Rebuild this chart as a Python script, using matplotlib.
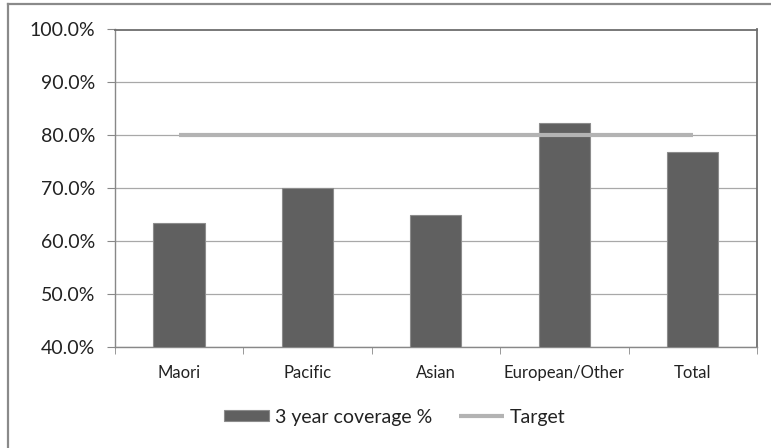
import matplotlib
matplotlib.use("Agg")
import matplotlib.pyplot as plt
from matplotlib.lines import Line2D
from matplotlib.ticker import FuncFormatter, FixedLocator

categories = ["Maori", "Pacific", "Asian", "European/Other", "Total"]
coverage = [63.4, 70.0, 65.0, 82.4, 76.9]
target = [80.0, 80.0, 80.0, 80.0, 80.0]
yticks = [40, 50, 60, 70, 80, 90, 100]

plt.rcParams['font.family'] = ['Lato', 'DejaVu Sans']

fig = plt.figure(figsize=(7.71, 4.48), dpi=100)
ax = fig.add_axes([114.6 / 771, 1 - 347 / 448, (757 - 114.6) / 771, (347 - 29.5) / 448])

x = list(range(len(categories)))
bars = ax.bar(x, coverage, width=0.4, color="#606060", edgecolor="#8c8c8c", linewidth=0.8,
              label="3 year coverage %", zorder=3)
line, = ax.plot(x, target, color="#b3b3b3", linewidth=3.0, solid_capstyle="butt",
                label="Target", zorder=4)

ax.set_xlim(-0.5, len(categories) - 0.5)
ax.set_ylim(40, 100)
ax.set_yticks(yticks)
ax.yaxis.set_major_formatter(FuncFormatter(lambda v, p: f"{v:.1f}%"))
ax.grid(axis="y", color="#a8a8a8", linewidth=0.9, zorder=0)

ax.set_xticks(x)
ax.set_xticklabels(categories, fontsize=12, color="#222222")
ax.xaxis.set_minor_locator(FixedLocator([i - 0.5 for i in range(len(categories) + 1)]))
ax.tick_params(axis="x", which="major", length=0, pad=13)
ax.tick_params(axis="x", which="minor", length=5, color="#888888", direction="out")
ax.tick_params(axis="y", length=6, color="#888888", labelsize=14, pad=8, labelcolor="#222222")

for s in ["left", "bottom"]:
    ax.spines[s].set_color("#888888")
    ax.spines[s].set_linewidth(1.0)
for s in ["top", "right"]:
    ax.spines[s].set_color("#6e6e6e")
    ax.spines[s].set_linewidth(1.3)

fig.legend(handles=[bars, line], labels=["3 year coverage %", "Target"],
           loc="center", bbox_to_anchor=(395 / 771, 1 - 417 / 448), ncol=2, frameon=False,
           fontsize=14, handlelength=2.3, handleheight=0.55, handletextpad=0.3,
           columnspacing=1.4, labelcolor="#222222")

# outer chart border (top and left visible)
fig.add_artist(Line2D([8 / 771, 8 / 771], [0, 1 - 4 / 448], transform=fig.transFigure,
                      color="#8a8a8a", linewidth=1.6))
fig.add_artist(Line2D([8 / 771, 1], [1 - 4 / 448, 1 - 4 / 448], transform=fig.transFigure,
                      color="#8a8a8a", linewidth=1.6))

fig.savefig("out.png", dpi=100)
